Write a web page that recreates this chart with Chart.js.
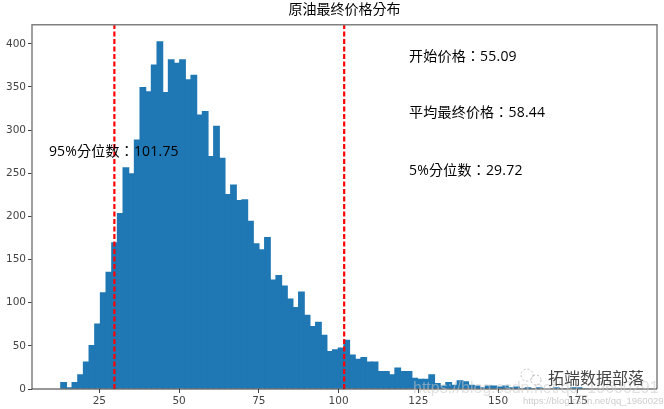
<!DOCTYPE html>
<html><head><meta charset="utf-8">
<script src="https://cdn.jsdelivr.net/npm/chart.js@4"></script>
<style>html,body{margin:0;padding:0;background:#fff}canvas{display:block}</style>
</head><body><canvas id="c" width="664" height="409"></canvas>
<script>
const chartTitle = "原油最终价格分布";
const binCenters = [13.8,15.58,17.35,19.13,20.9,22.68,24.45,26.23,28,29.78,31.55,33.33,35.1,36.88,38.65,40.43,42.2,43.98,45.75,47.53,49.3,51.08,52.85,54.63,56.4,58.18,59.95,61.73,63.5,65.28,67.05,68.83,70.6,72.38,74.15,75.93,77.7,79.48,81.25,83.03,84.8,86.58,88.35,90.13,91.9,93.68,95.45,97.23,99,100.78,102.55,104.33,106.1,107.88,109.65,111.43,113.2,114.98,116.75,118.53,120.3,122.08,123.85,125.63,127.4,129.18,130.95,132.73,134.5,136.28,138.05,139.83,141.6,143.38,145.15,146.93,148.7,150.48,152.25,154.03,155.8,157.58,159.35,161.13,162.9,164.68,166.45,168.23,170,171.78,173.55,175.33,177.1];
const binCounts = [8,2,8,17,32,51,76,112,136,170,204,257,250,289,350,345,376,403,344,382,378,382,359,364,318,322,270,305,268,226,237,219,220,195,169,162,176,127,132,120,105,95,113,86,73,78,63,44,46,48,57,40,35,37,32,32,21,21,17,25,21,21,13,12,12,17,7,4,8,5,10,9,5,4,2,4,4,3,4,2,3,1,2,1,2,1,1,2,1,1,2,2,1];
const percentile5 = 29.72;
const percentile95 = 101.75;
const annotationTexts = ["开始价格：55.09","平均最终价格：58.44","5%分位数：29.72","95%分位数：101.75"];
const annotationX = [122.1,122.1,122.1,9.2];
const annotationY = [385,320,253,275];
const watermarks = ["拓端数据部落","https://blog.csdn.net/qq_19600291","https://blog.csdn.net/qq_19600291"];
const yLimit = [0,422];
const xLimit = [3.9,199.8];
const CJK = '"Open Sans","Noto Sans CJK TC",sans-serif';

const overlay = {
  id:'overlay',
  afterDraw(ch){
    const g=ch.ctx,a=ch.chartArea,x=ch.scales.x,y=ch.scales.y;
    g.save();
    g.strokeStyle='#808080';g.lineWidth=1.5;
    g.beginPath();g.moveTo(a.left,a.bottom);g.lineTo(a.left,a.top);g.lineTo(a.right,a.top);g.lineTo(a.right,a.bottom);g.stroke();
    g.strokeStyle='#333';g.lineWidth=1.2;
    g.beginPath();g.moveTo(a.left,a.bottom);g.lineTo(a.right,a.bottom);g.stroke();
    g.fillStyle='#000';g.font='14px '+CJK;g.textBaseline='middle';g.textAlign='left';
    g.letterSpacing='0.2px';
    annotationTexts.forEach((t,i)=>g.fillText(t,x.getPixelForValue(annotationX[i]),y.getPixelForValue(annotationY[i])));
    g.letterSpacing='0px';
    g.fillStyle='rgba(200,200,200,0.55)';g.font='16px "Liberation Sans",sans-serif';
    g.fillText(watermarks[1],413,389);
    g.fillStyle='rgba(170,170,170,0.6)';g.font='9.5px "Liberation Sans",sans-serif';
    g.fillText(watermarks[2],523,401);
    g.fillStyle='#444';g.font='16px '+CJK;
    g.fillText(watermarks[0],548,379);
    g.strokeStyle='#bbb';g.lineWidth=1;g.setLineDash([2,2]);
    g.beginPath();g.arc(527,375,6,0,Math.PI*2);g.stroke();
    g.beginPath();g.arc(536,380,5,0,Math.PI*2);g.stroke();
    g.restore();
  }
};

function vline(v){return {type:'line',data:[{x:v,y:yLimit[0]},{x:v,y:yLimit[1]}],borderColor:'#ff0000',borderWidth:2.2,borderDash:[5,2.5],pointRadius:0,fill:false,order:0};}

new Chart(document.getElementById('c'),{
  type:'bar',
  data:{datasets:[
    {type:'bar',data:binCenters.map((v,i)=>({x:v,y:binCounts[i]})),backgroundColor:'#1f77b4',borderWidth:0,barPercentage:1.2,categoryPercentage:1,order:1},
    vline(percentile5),vline(percentile95)
  ]},
  options:{
    responsive:false,animation:false,
    layout:{padding:{left:0,right:7,top:0,bottom:0}},
    plugins:{legend:{display:false},tooltip:{enabled:false},
      title:{display:true,fullSize:false,text:chartTitle,color:'#000',font:{family:CJK,size:14,weight:'normal'},padding:{top:2,bottom:6}}},
    scales:{
      x:{type:'linear',offset:false,min:xLimit[0],max:xLimit[1],
        afterFit(s){s.height=20;},
        border:{display:false},
        grid:{drawOnChartArea:false,drawTicks:true,offset:false,tickLength:4,color:'#444'},
        ticks:{stepSize:25,includeBounds:false,autoSkip:false,maxRotation:0,color:'#444',padding:2,font:{family:'"DejaVu Sans"',size:10.5}}},
      y:{min:yLimit[0],max:yLimit[1],
        afterFit(s){s.width=32;},
        border:{display:false},
        grid:{drawOnChartArea:false,drawTicks:true,tickLength:4,color:'#444'},
        ticks:{stepSize:50,includeBounds:false,color:'#444',padding:2,font:{family:'"DejaVu Sans"',size:10.5}}}
    }
  },
  plugins:[overlay]
});
</script>
</body></html>
